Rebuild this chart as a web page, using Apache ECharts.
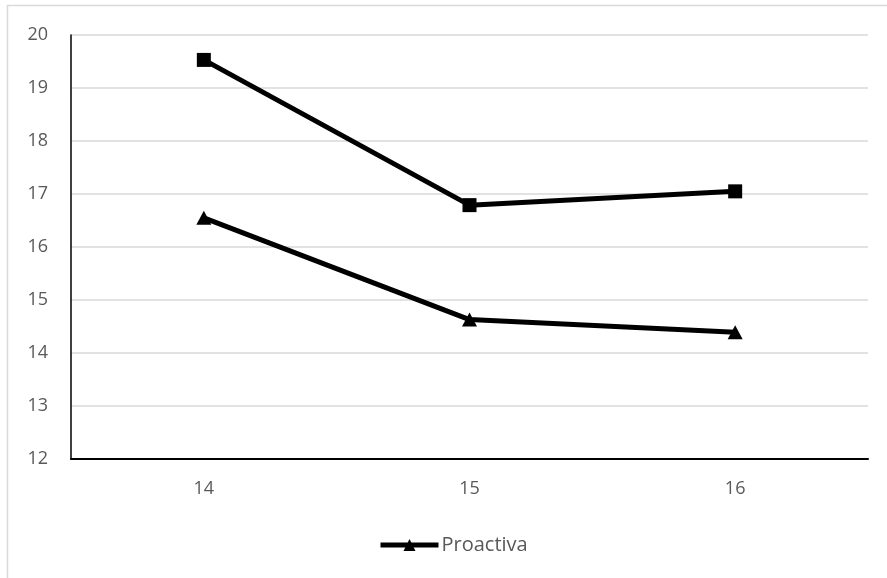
<!DOCTYPE html>
<html><head><meta charset="utf-8">
<script src="https://cdn.jsdelivr.net/npm/echarts@6/dist/echarts.min.js"></script>
<style>html,body{margin:0;padding:0;background:#fff}#c{width:887px;height:578px}</style>
</head><body><div id="c"></div>
<script>
const categories = ['14', '15', '16'];
const seriesSquareName = 'Reactiva';
const seriesSquare = [19.53, 16.79, 17.05];
const seriesTriangleName = 'Proactiva';
const seriesTriangle = [16.55, 14.63, 14.39];
const yTicks = { min: 12, max: 20, interval: 1 };

const chart = echarts.init(document.getElementById('c'));
const font = '"Open Sans", sans-serif';
chart.setOption({
  animation: false,
  backgroundColor: '#fff',
  graphic: [{
    type: 'rect', shape: { x: 7.5, y: 5.5, width: 1000, height: 1000 },
    style: { fill: 'none', stroke: '#d9d9d9', lineWidth: 1.5 }, silent: true
  }],
  grid: { left: 71, right: 19, top: 35, bottom: 119, containLabel: false },
  legend: {
    data: [{ name: seriesTriangleName }],
    left: 373, top: 530,
    itemWidth: 58, itemHeight: 15, itemGap: 2,
    lineStyle: { width: 5, color: '#000' },
    textStyle: { color: '#595959', fontSize: 20, fontFamily: font, padding: [0, 0, 0, -2] }
  },
  xAxis: {
    type: 'category', data: categories, boundaryGap: true,
    axisLine: { lineStyle: { color: '#000', width: 2 } },
    axisTick: { show: false },
    axisLabel: { color: '#595959', fontSize: 18, fontFamily: font, margin: 21 },
    splitLine: { show: false }
  },
  yAxis: {
    type: 'value', min: yTicks.min, max: yTicks.max, interval: yTicks.interval,
    axisLine: { show: true, lineStyle: { color: '#000', width: 1.5 } },
    axisTick: { show: false },
    axisLabel: { color: '#595959', fontSize: 18, fontFamily: font, margin: 23 },
    splitLine: { lineStyle: { color: '#d9d9d9', width: 1.5 } }
  },
  series: [{
    name: seriesSquareName, type: 'line', data: seriesSquare,
    symbol: 'rect', symbolSize: 14,
    lineStyle: { color: '#000', width: 5 },
    itemStyle: { color: '#000' }
  }, {
    name: seriesTriangleName, type: 'line', data: seriesTriangle,
    symbol: 'triangle', symbolSize: [15, 14],
    lineStyle: { color: '#000', width: 5 },
    itemStyle: { color: '#000' }
  }]
});
</script></body></html>
